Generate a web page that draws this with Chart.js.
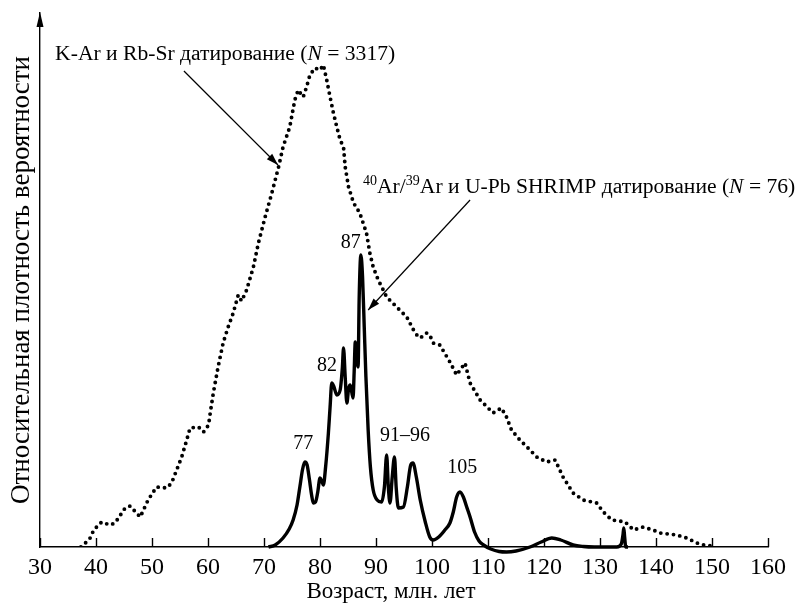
<!DOCTYPE html>
<html><head><meta charset="utf-8">
<script src="https://cdn.jsdelivr.net/npm/chart.js@4/dist/chart.umd.min.js"></script>
<style>html,body{margin:0;padding:0;background:#fff}canvas{display:block}</style>
</head><body>
<canvas id="c" width="798" height="605"></canvas>
<script>
// ---- data (relative probability density, arbitrary units) ----
const xTicks = [30,40,50,60,70,80,90,100,110,120,130,140,150,160];

const krAges = [37.3,38.5,39.1,39.5,40.1,41,42.5,43.4,45.2,46.1,47.9,49.3,50.8,52.6,53.5,54.4,55.3,56.2,56.8,58.3,59.2,60.1,60.4,60.95,61.8,62.7,63.6,64.5,65.4,66,66.9,68.1,69,70.2,71.4,72.6,73.4,74.6,75.5,76.1,77,77.6,78.2,79.1,80,80.6,81.2,81.8,82.4,83,83.6,84.2,84.5,85.1,86,87.1,88.3,88.9,89.5,90.4,91.3,91.9,93.7,95.5,96.7,97.3,97.9,99,99.6,100.2,101.4,103.2,104.4,105.9,106.8,108.6,110.9,112.4,113.3,114.2,115.7,117.5,118.7,120.5,122,123.4,125.2,127,129.4,130.6,132.1,133.5,134.5,136,137.7,139.5,140.7,143.7,145.5,147.3,148.5,149.9];
const krDensity = [0,6,10,16,20,25,22,24,39,41,30,47,60,59,64,77,90,107,119,120,115,122,134,154,180,204,220,234,252,246,257,280,304,330,354,380,400,420,447,457,450,460,472,479,477,482,467,450,434,420,407,400,380,360,344,334,314,294,280,267,257,250,240,230,217,212,209,214,212,204,202,185,172,184,164,147,134,139,130,117,107,97,90,85,87,70,54,47,44,35,27,26,25,17,20,17,14,12,9,4,2,1];

const arAges = [70.8,72,73.4,74.5,75.2,75.9,76.4,76.9,77.3,77.7,78.1,78.5,78.8,79.2,79.6,80,80.3,80.6,81,81.5,81.8,82.1,82.5,83,83.6,84,84.2,84.5,84.8,85.1,85.4,85.9,86.1,86.3,86.6,86.8,87,87.3,87.6,87.9,88.2,88.6,89,89.5,90.2,91,91.5,91.9,92.2,92.5,92.9,93.3,93.6,94,94.9,95.6,96.2,96.6,97.2,97.9,98.8,99.6,100.2,101.2,102.3,103.2,103.8,104.4,105,105.6,106.2,106.8,107.6,108.4,109.2,110.5,112,113.3,115,117.5,119.5,121.4,123,125.2,127,129,133,133.8,134.1,134.25,134.4,134.6,135];
const arDensity = [0,2,9,18,27,42,60,78,85,82,68,52,44,45,55,69,66,62,80,114,140,164,160,152,157,180,199,170,144,158,162,149,175,205,185,180,250,292,270,220,170,117,80,57,47,45,60,92,60,44,70,90,60,39,40,60,82,84,70,47,25,10,7,10,17,24,35,50,55,50,40,30,15,6,2,-2,-4.5,-5,-4,0,5,9,7,2,0.5,0,0,3,12,19,10,0,0];

const peakLabels = ['77','82','87','91–96','105'];
const yTitle = 'Относительная плотность вероятности';
const xTitle = 'Возраст, млн. лет';

// ---- drawing helpers ----
const SERIF = '"Liberation Serif", "Times New Roman", serif';
function drawRich(ctx, x, y, segs){
  let cx = x;
  segs.forEach(s=>{
    ctx.font = s.f;
    ctx.fillText(s.t, cx, y + (s.dy||0));
    cx += ctx.measureText(s.t).width;
  });
}
function arrow(ctx, x1, y1, x2, y2){
  ctx.beginPath(); ctx.moveTo(x1,y1); ctx.lineTo(x2,y2);
  ctx.lineWidth = 1.2; ctx.stroke();
  const a = Math.atan2(y2-y1, x2-x1), L = 12, W = 3.8;
  ctx.beginPath();
  ctx.moveTo(x2,y2);
  ctx.lineTo(x2 - L*Math.cos(a) + W*Math.sin(a), y2 - L*Math.sin(a) - W*Math.cos(a));
  ctx.lineTo(x2 - L*Math.cos(a) - W*Math.sin(a), y2 - L*Math.sin(a) + W*Math.cos(a));
  ctx.closePath(); ctx.fill();
}

const decor = {
  id:'decor',
  afterDraw(chart){
    const ctx = chart.ctx, xs = chart.scales.x, ys = chart.scales.y;
    const X = v=>xs.getPixelForValue(v), Y = v=>ys.getPixelForValue(v);
    const ca = chart.chartArea;
    ctx.save();
    ctx.fillStyle = '#000'; ctx.strokeStyle = '#000';
    // inward tick marks
    ctx.lineWidth = 1.4;
    xTicks.forEach(v=>{
      const p = Math.round(X(v)) + 0.5;
      ctx.beginPath(); ctx.moveTo(p, ca.bottom); ctx.lineTo(p, ca.bottom - 9); ctx.stroke();
    });
    // y-axis arrow head
    ctx.beginPath();
    ctx.moveTo(ca.left, ca.top - 1);
    ctx.lineTo(ca.left - 3.5, ca.top + 14);
    ctx.lineTo(ca.left + 3.5, ca.top + 14);
    ctx.closePath(); ctx.fill();
    // x title
    ctx.font = '23px ' + SERIF;
    ctx.textAlign = 'center'; ctx.textBaseline = 'alphabetic';
    ctx.fillText(xTitle, X(30 + (391-40)/5.6), 598);
    // peak labels
    ctx.font = '20px ' + SERIF;
    ctx.textBaseline = 'middle';
    const pk = [[77.0,103],[81.25,181],[85.5,304],[95.2,111],[105.4,79]];
    peakLabels.forEach((t,i)=> ctx.fillText(t, X(pk[i][0]), Y(pk[i][1])));
    // annotations
    ctx.textAlign = 'left'; ctx.textBaseline = 'alphabetic';
    const nf = '21.6px ' + SERIF, itf = 'italic 21.6px ' + SERIF, sf = '14px ' + SERIF;
    drawRich(ctx, X(32.7), Y(487), [
      {t:'K-Ar и Rb-Sr датирование (', f:nf},{t:'N', f:itf},{t:' = 3317)', f:nf}]);
    arrow(ctx, X(55.7), Y(476), X(72.5), Y(382));
    drawRich(ctx, X(87.68), Y(354), [
      {t:'40', f:sf, dy:-8.5},{t:'Ar/', f:nf},{t:'39', f:sf, dy:-8.5},
      {t:'Ar и U-Pb SHRIMP датирование (', f:nf},{t:'N', f:itf},{t:' = 76)', f:nf}]);
    arrow(ctx, X(106.8), Y(347), X(88.6), Y(237));
    ctx.restore();
  }
};

new Chart(document.getElementById('c').getContext('2d'), {
  type:'line',
  data:{datasets:[
    {label:'K-Ar и Rb-Sr датирование (N = 3317)',
     data: krAges.map((x,i)=>({x, y:krDensity[i]})),
     borderColor:'#000', borderWidth:3.9, borderDash:[0,6.4], borderCapStyle:'round',
     pointRadius:0, fill:false, tension:0},
    {label:'40Ar/39Ar и U-Pb SHRIMP датирование (N = 76)',
     data: arAges.map((x,i)=>({x, y:arDensity[i]})),
     borderColor:'#000', borderWidth:3.4, borderJoinStyle:'round', pointRadius:0, fill:false,
     cubicInterpolationMode:'monotone', clip:false}
  ]},
  options:{
    responsive:false, animation:false, devicePixelRatio:1,
    layout:{padding:{top:13,right:30,left:0,bottom:0}},
    plugins:{legend:{display:false}, tooltip:{enabled:false}},
    scales:{
      x:{type:'linear', min:30, max:160,
         afterBuildTicks:s=>{ s.ticks = xTicks.map(v=>({value:v})); },
         afterFit:s=>{ s.height = 58; },
         grid:{display:false}, border:{display:true, color:'#000', width:1.4},
         ticks:{color:'#000', font:{family:SERIF, size:24}, padding:-2, maxRotation:0, autoSkip:false}},
      y:{type:'linear', min:0, max:534,
         afterFit:s=>{ s.width = 40; },
         grid:{display:false}, border:{display:true, color:'#000', width:1.4},
         ticks:{display:false},
         title:{display:true, text:yTitle, color:'#000', font:{family:SERIF, size:27}, padding:{top:6,bottom:0}}}
    }
  },
  plugins:[decor]
});
</script>
</body></html>
